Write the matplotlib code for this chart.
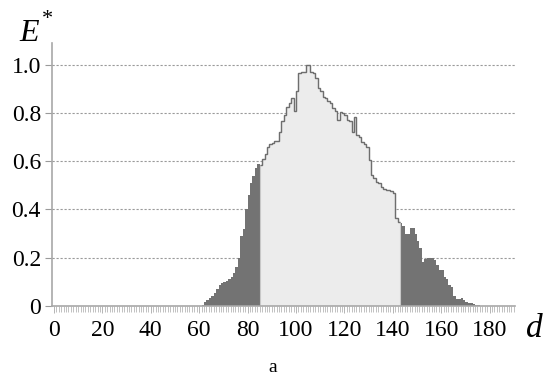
import numpy as np
import matplotlib
matplotlib.use("Agg")
import matplotlib.pyplot as plt
from matplotlib.ticker import MultipleLocator, FixedLocator

# Relative energy E* per unit bin of d
left_start = 61
left_tail = [0.005, 0.015, 0.025, 0.035, 0.04, 0.055, 0.07, 0.085, 0.095, 0.10,
             0.105, 0.11, 0.12, 0.135, 0.16, 0.20, 0.29, 0.32, 0.40, 0.46,
             0.51, 0.54, 0.57, 0.59]

core_start = 85
core = [0.585, 0.61, 0.63, 0.66, 0.67, 0.675, 0.685, 0.685, 0.72, 0.765,
        0.79, 0.825, 0.84, 0.86, 0.81, 0.89, 0.965, 0.97, 0.97, 1.0,
        1.0, 0.97, 0.965, 0.945, 0.905, 0.89, 0.868, 0.86, 0.85, 0.84,
        0.82, 0.81, 0.772, 0.806, 0.80, 0.79, 0.77, 0.765, 0.723, 0.785,
        0.71, 0.70, 0.68, 0.67, 0.66, 0.606, 0.543, 0.53, 0.515, 0.51,
        0.495, 0.485, 0.48, 0.48, 0.475, 0.468, 0.364, 0.35]

right_start = 143
right_tail = [0.343, 0.33, 0.30, 0.30, 0.322, 0.322, 0.30, 0.27, 0.24, 0.184,
              0.195, 0.198, 0.198, 0.198, 0.19, 0.17, 0.15, 0.149, 0.122, 0.11,
              0.087, 0.08, 0.04, 0.03, 0.028, 0.032, 0.025, 0.018, 0.013, 0.011,
              0.007, 0.005, 0.003]

x_ticks = [0, 20, 40, 60, 80, 100, 120, 140, 160, 180]
y_ticks = [0, 0.2, 0.4, 0.6, 0.8, 1.0]
y_tick_labels = ["0", "0.2", "0.4", "0.6", "0.8", "1.0"]

DARK = "#737373"
LIGHT = "#ececec"
EDGE = "#6e6e6e"
SIDE = "#c8c8c8"
AXIS = "#a8a8a8"
GRID = "#9a9a9a"
SERIF = ["Liberation Serif", "DejaVu Serif"]

plt.rcParams["font.family"] = SERIF

fig = plt.figure(figsize=(5.47, 3.76), dpi=100)
ax = fig.add_axes([52 / 547, 1 - 306 / 376, 463 / 547, 263 / 376])


def edges(start, vals):
    return np.arange(start, start + len(vals) + 1)


# grid lines behind the bars
for yv in y_ticks[1:]:
    ax.axhline(yv, color=GRID, lw=0.8, ls=(0, (2.0, 1.6)), zorder=0)

ax.stairs(left_tail, edges(left_start, left_tail), fill=True, color=DARK,
          lw=0, zorder=2)
ax.stairs(right_tail, edges(right_start, right_tail), fill=True, color=DARK,
          lw=0, zorder=2)
ax.stairs(core, edges(core_start, core), fill=True, color=LIGHT, lw=0,
          zorder=2)
# faint sides of the central block, darker stepped top
ax.stairs(core, edges(core_start, core), baseline=0, fill=False, color=SIDE,
          lw=0.8, zorder=3)
ax.stairs(core, edges(core_start, core), baseline=None, fill=False,
          color=EDGE, lw=1.0, zorder=3)

ax.set_xlim(-0.8, 190.5)
ax.set_ylim(0, 1.09)

for side in ("top", "right"):
    ax.spines[side].set_visible(False)
for side in ("left", "bottom"):
    ax.spines[side].set_color(AXIS)
    ax.spines[side].set_linewidth(1.2)
    ax.spines[side].set_zorder(4)

ax.xaxis.set_major_locator(FixedLocator(x_ticks))
ax.xaxis.set_minor_locator(MultipleLocator(1))
ax.set_xticklabels([str(v) for v in x_ticks], family=SERIF, fontsize=17)
ax.set_yticks(y_ticks)
ax.set_yticklabels(y_tick_labels, family=SERIF, fontsize=17)

ax.tick_params(axis="x", which="major", length=5, width=0.6, color=AXIS,
               pad=5)
ax.tick_params(axis="x", which="minor", length=4, width=0.5, color=AXIS)
ax.tick_params(axis="y", which="major", length=5, width=0.8, color=GRID,
               pad=3)

# axis titles
fig.text(19 / 547, 1 - 41 / 376, "E", fontsize=23, style="italic",
         ha="left", va="baseline", family=SERIF)
fig.text(42 / 547, 1 - 24 / 376, "*", fontsize=16, ha="left",
         va="baseline", family=SERIF)
fig.text(534 / 547, 1 - 337 / 376, "d", fontsize=24, style="italic",
         ha="center", va="baseline", family=SERIF)
fig.text(273 / 547, 1 - 372 / 376, "a", fontsize=14, ha="center",
         va="baseline", family=SERIF)

fig.savefig("out.png", dpi=100)
